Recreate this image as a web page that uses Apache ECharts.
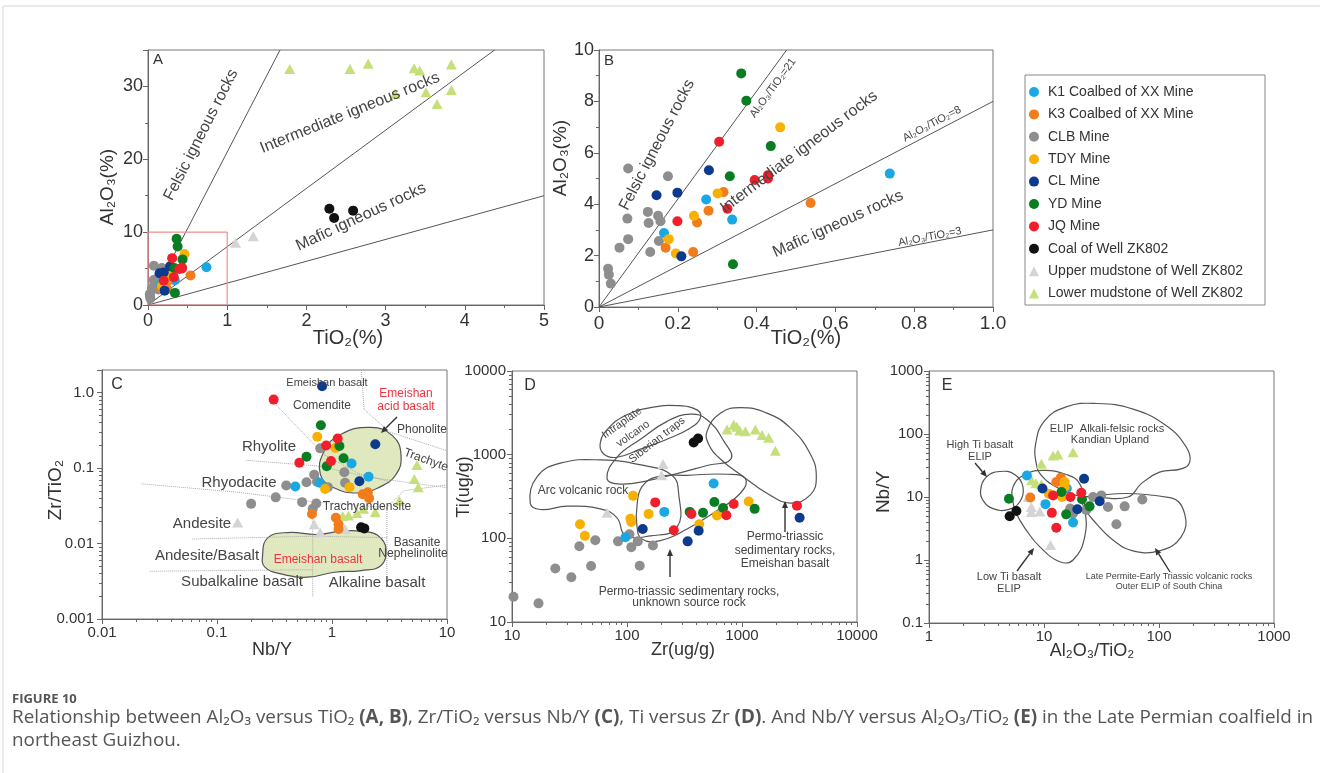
<!DOCTYPE html>
<html lang="en">
<head>
<meta charset="UTF-8">
<title>Figure 10</title>
<style>
  * { margin: 0; padding: 0; }
  body { background: #fff; }
  #main { width: 1320px; height: 773px; }
</style>
<script src="https://cdn.jsdelivr.net/npm/echarts@6/dist/echarts.min.js"></script>
</head>
<body>
<div id="main"></div>
<script>
const FONT = 'Liberation Sans, Arial, sans-serif';

const groups = ['K1 Coalbed of XX Mine', 'K3 Coalbed of XX Mine', 'CLB Mine', 'TDY Mine', 'CL Mine',
  'YD Mine', 'JQ Mine', 'Coal of Well ZK802', 'Upper mudstone of Well ZK802', 'Lower mudstone of Well ZK802'];
const colors = ['#1aa8e4', '#f07c1c', '#8e8e8e', '#f8b100', '#0c3b8e', '#0a7c22', '#f01f2b', '#111111', '#d4d4d4', '#c5df7a'];
const symbols = ['circle', 'circle', 'circle', 'circle', 'circle', 'circle', 'circle', 'circle', 'triangle', 'triangle'];
const drawOrder = [8, 9, 2, 0, 1, 3, 4, 5, 6, 7];

// A & B : TiO2 (%) vs Al2O3 (%), one list per group in the order of `groups`
const abPoints = [
  [[0.272, 4.18], [0.338, 3.40], [0.165, 2.88], [0.738, 5.19]],
  [[0.316, 4.47], [0.278, 3.75], [0.249, 3.29], [0.169, 2.31], [0.239, 2.14], [0.537, 4.05]],
  [[0.023, 1.49], [0.025, 1.26], [0.030, 0.91], [0.052, 2.31], [0.074, 5.39], [0.072, 3.44], [0.074, 2.64],
   [0.124, 3.70], [0.126, 3.27], [0.130, 2.14], [0.150, 3.55], [0.156, 3.34], [0.152, 2.57], [0.175, 5.09]],
  [[0.460, 6.99], [0.301, 4.42], [0.241, 3.55], [0.177, 2.64], [0.195, 2.08]],
  [[0.146, 4.35], [0.199, 4.45], [0.279, 5.32], [0.209, 1.97]],
  [[0.361, 9.09], [0.374, 8.03], [0.436, 6.26], [0.332, 5.09], [0.340, 1.66]],
  [[0.305, 6.43], [0.199, 3.34], [0.326, 3.82], [0.395, 4.94], [0.429, 5.13], [0.429, 5.0]],
  [[2.29, 13.2], [2.35, 11.95], [2.59, 12.95]],
  [[1.105, 8.55], [1.33, 9.45]],
  [[1.79, 32.4], [2.55, 32.4], [2.78, 33.1], [3.36, 32.5], [3.43, 32.2], [3.51, 29.2], [3.65, 27.6],
   [3.83, 33.0], [3.83, 29.5], [3.12, 29.0]]
];

// C : Nb/Y vs Zr/TiO2
const cPoints = [
  [[0.48, 0.057], [0.78, 0.064], [1.48, 0.115], [2.08, 0.077]],
  [[1.85, 0.045], [2.05, 0.048], [2.1, 0.040], [0.67, 0.0247], [1.08, 0.022], [1.14, 0.018], [1.14, 0.0156]],
  [[0.198, 0.0336], [0.324, 0.041], [0.40, 0.059], [0.55, 0.0354], [0.60, 0.065], [0.70, 0.082], [0.74, 0.066],
   [0.92, 0.056], [0.79, 0.183], [0.73, 0.034], [0.68, 0.029], [1.28, 0.088], [1.30, 0.064]],
  [[0.745, 0.26], [1.07, 0.185], [0.87, 0.053], [1.42, 0.056]],
  [[0.82, 1.22], [2.38, 0.207], [1.73, 0.067]],
  [[0.80, 0.37], [0.60, 0.142], [0.90, 0.106], [1.16, 0.197], [1.26, 0.135]],
  [[0.311, 0.81], [0.52, 0.118], [0.89, 0.20], [1.12, 0.247], [0.98, 0.124]],
  [[1.79, 0.0164], [1.91, 0.0159]],
  [[0.151, 0.019], [0.70, 0.018], [0.79, 0.014], [1.30, 0.0156]],
  [[5.48, 0.11], [5.2, 0.072], [5.63, 0.056], [3.85, 0.037], [2.38, 0.026], [1.65, 0.0255], [1.39, 0.0235],
   [1.24, 0.0232], [1.88, 0.029]]
];

// D : Zr (ug/g) vs Ti (ug/g)
const dPoints = [
  [[97, 103], [211, 207], [567, 453]],
  [],
  [[10.3, 20], [17, 16.7], [23.8, 43.7], [32.8, 34.3], [38.5, 80.5], [48.7, 46.6], [53, 95], [83.6, 92],
   [105, 112], [109, 78.5], [124, 92], [129, 47], [168, 82]],
  [[39, 147], [43, 107], [113, 322], [107, 171], [109, 157], [154, 196], [425, 147], [606, 188], [1143, 276]],
  [[137, 129], [337, 92], [420, 123], [3170, 176]],
  [[351, 207], [458, 202], [575, 272], [684, 231], [1288, 225]],
  [[176, 269], [255, 125], [363, 196], [731, 189], [847, 257], [3006, 246]],
  [[380, 1400], [415, 1560]],
  [[67, 202], [200, 567], [206, 776]],
  [[741, 1998], [847, 2285], [955, 1945], [1070, 1910], [1306, 1996], [1493, 1714], [1706, 1597],
   [1950, 1114], [900, 2150]]
];

// E : Al2O3/TiO2 vs Nb/Y
const ePoints = [
  [[7.1, 22], [10.3, 7.7], [15.8, 13.6], [17.9, 3.94]],
  [[14, 20.2], [12.8, 17.3], [7.6, 9.8]],
  [[26.7, 10], [31.5, 10.6], [36, 6.95], [50.3, 7.1], [71.6, 9.1], [42.6, 3.7], [16.9, 6.55], [17.9, 5.46], [23.3, 6.2]],
  [[15.1, 17.3], [14.4, 10], [15.1, 14.4], [11, 11.3]],
  [[22.3, 19.5], [9.7, 13.6], [19.5, 6.4], [30.5, 8.55]],
  [[4.96, 9.4], [21.4, 9.2], [15.6, 5.3], [24.9, 7.1], [14.2, 12.0]],
  [[12, 10.6], [17, 10], [21.1, 11.7], [11.7, 5.6], [12.8, 3.24]],
  [[5.03, 4.95], [5.75, 6.0]],
  [[7.76, 6.95], [7.76, 5.8], [9.2, 5.9], [11.4, 1.73], [7.3, 10]],
  [[9.5, 33.6], [12, 45.5], [13.2, 47.2], [17.9, 51.4], [7.8, 18.5], [8.5, 16.5], [9.5, 16]]
];

// Al2O3/TiO2 ratio lines of A and B
const ratioLines = [21, 8, 3];

// field outlines (data units)
const cAcidBasalt = [[0.793, 0.0822], [0.857, 0.169], [1.20, 0.282], [2.18, 0.347], [3.37, 0.268], [3.98, 0.152],
  [3.60, 0.0822], [2.50, 0.0545], [1.67, 0.0468], [1.05, 0.0545]];
const cEmeishanBasalt = [[0.249, 0.00698], [0.276, 0.0119], [0.411, 0.0140], [0.750, 0.0132], [1.20, 0.0146],
  [1.79, 0.0146], [2.49, 0.0129], [2.95, 0.00857], [2.67, 0.00513], [1.79, 0.00439], [1.05, 0.00417],
  [0.614, 0.00358], [0.361, 0.00396], [0.261, 0.00487]];
const cBoundaries = [
  [[0.33, 0.68], [0.84, 0.153], [1.7, 0.085], [3.2, 0.066]],
  [[1.8, 2], [1.9, 0.6], [3.2, 0.3], [10, 0.17]],
  [[0.18, 0.127], [0.74, 0.107], [2.2, 0.075], [10, 0.055]],
  [[0.022, 0.062], [0.15, 0.048], [0.68, 0.036], [3, 0.03]],
  [[0.061, 0.0115], [0.68, 0.0125], [3, 0.012]],
  [[0.026, 0.0043], [0.68, 0.0045]],
  [[0.68, 0.002], [0.68, 0.04]],
  [[3, 0.003], [3, 0.03], [4.2, 0.05], [10, 0.06]]
];
const dIntraplate = [[58.6, 1396], [69.3, 2089], [100, 3000], [160, 3651], [272, 3855], [406, 3428], [434, 2738],
  [356, 2089], [223, 1528], [131, 1164], [81.8, 931], [62.7, 1019]];
const dSiberian = [[67, 519], [81.8, 931], [131, 1528], [223, 2500], [356, 3048], [497, 2618], [693, 1460],
  [802, 889], [497, 743], [272, 593], [149, 487], [87.5, 445]];
const dArc = [[14.4, 264], [16.5, 542], [26.3, 791], [58.6, 866], [140, 743], [246, 567], [281, 346], [272, 135],
  [160, 107], [96.8, 109], [81.8, 176], [58.6, 225], [30.1, 242], [17.6, 221]];
const dUnknown = [[122, 242], [135, 414], [182, 542], [333, 567], [741, 583], [1069, 519], [968, 346], [567, 202],
  [333, 129], [195, 94], [135, 98], [122, 141]];
const dEmeishan = [[497, 1911], [648, 3133], [968, 3651], [1648, 3133], [2630, 2089], [3926, 1019], [4428, 542],
  [3926, 331], [2630, 264], [1648, 346], [1033, 542], [648, 889], [513, 1334]];
const eHighTi = [[2.81, 12.7], [3.15, 20.7], [4.12, 25.4], [5.56, 22.8], [6.57, 14.4], [6.14, 8.34], [4.86, 6.31],
  [3.60, 6.55], [2.95, 8.86]];
const eLowTi = [[5.37, 14.4], [6.57, 22], [9.8, 26.4], [15.6, 22.8], [20.4, 16.3], [22.6, 6.95], [22.6, 2.33],
  [17.9, 1.0], [13.7, 0.94], [9.17, 1.63], [7.02, 2.98], [5.75, 5.46], [5.3, 9.42]];
const eAlkali = [[8.58, 33.6], [8.46, 69.5], [10.1, 162], [15.6, 270], [28.5, 305], [59.4, 248], [116, 135],
  [173, 61.6], [185, 35.7], [156, 28], [101, 24.8], [70.2, 16.3], [53.8, 10], [28.5, 10], [19.1, 10.6],
  [12.8, 14.4], [9.48, 22]];
const eLatePermian = [[21.8, 10], [124, 9.76], [167, 5.46], [156, 2.33], [101, 1.40], [59.4, 1.40], [39.8, 2.07],
  [28.5, 3.79], [22.6, 6.55]];

const chart = echarts.init(document.getElementById('main'));

function logLabel(map) {
  return function (v) {
    const lg = Math.log10(v);
    if (Math.abs(lg - Math.round(lg)) > 1e-6) return '';
    return map[Math.round(lg)] || '';
  };
}

function axis(extra, fontSize, minorSplit) {
  return Object.assign({
    axisLine: { show: true, lineStyle: { color: '#666', width: 1 } },
    axisTick: { show: true, length: 5, lineStyle: { color: '#666' } },
    minorTick: { show: true, splitNumber: minorSplit, length: 3, lineStyle: { color: '#666' } },
    splitLine: { show: false },
    axisLabel: { color: '#333', fontSize: fontSize, fontFamily: FONT, margin: 7 }
  }, extra);
}

const xAxis = [
  axis({ gridIndex: 0, type: 'value', min: 0, max: 5, interval: 1 }, 18, 2),
  axis({ gridIndex: 1, type: 'value', min: 0, max: 1, interval: 0.2,
    axisLabel: { color: '#333', fontSize: 19, fontFamily: FONT, margin: 7,
      formatter: v => v === 0 ? '0' : v.toFixed(1) } }, 19, 2),
  axis({ gridIndex: 2, type: 'log', logBase: 10, min: 0.01, max: 10,
    axisLabel: { color: '#333', fontSize: 15, fontFamily: FONT, margin: 6,
      formatter: logLabel({ '-2': '0.01', '-1': '0.1', '0': '1', '1': '10' }) } }, 15, 9),
  axis({ gridIndex: 3, type: 'log', logBase: 10, min: 10, max: 10000,
    axisLabel: { color: '#333', fontSize: 15, fontFamily: FONT, margin: 6,
      formatter: logLabel({ '1': '10', '2': '100', '3': '1000', '4': '10000' }) } }, 15, 9),
  axis({ gridIndex: 4, type: 'log', logBase: 10, min: 1, max: 1000,
    axisLabel: { color: '#333', fontSize: 15, fontFamily: FONT, margin: 6,
      formatter: logLabel({ '0': '1', '1': '10', '2': '100', '3': '1000' }) } }, 15, 9)
];
const yAxis = [
  axis({ gridIndex: 0, type: 'value', min: 0, max: 35, interval: 10,
    axisLabel: { color: '#333', fontSize: 18, fontFamily: FONT, margin: 5, showMaxLabel: false,
      formatter: v => (v % 10 === 0 ? String(v) : '') } }, 18, 2),
  axis({ gridIndex: 1, type: 'value', min: 0, max: 10, interval: 2,
    axisLabel: { color: '#333', fontSize: 18, fontFamily: FONT, margin: 5 } }, 18, 2),
  axis({ gridIndex: 2, type: 'log', logBase: 10, min: 0.001, max: 2,
    axisLabel: { color: '#333', fontSize: 15, fontFamily: FONT, margin: 8,
      formatter: logLabel({ '-3': '0.001', '-2': '0.01', '-1': '0.1', '0': '1.0' }) } }, 15, 9),
  axis({ gridIndex: 3, type: 'log', logBase: 10, min: 10, max: 10000,
    axisLabel: { color: '#333', fontSize: 15, fontFamily: FONT, margin: 6,
      formatter: logLabel({ '1': '10', '2': '100', '3': '1000', '4': '10000' }) } }, 15, 9),
  axis({ gridIndex: 4, type: 'log', logBase: 10, min: 0.1, max: 1000,
    axisLabel: { color: '#333', fontSize: 15, fontFamily: FONT, margin: 6,
      formatter: logLabel({ '-1': '0.1', '0': '1', '1': '10', '2': '100', '3': '1000' }) } }, 15, 9)
];

const gridBox = { show: true, borderColor: '#777', borderWidth: 1, backgroundColor: 'transparent' };
const grid = [
  Object.assign({ left: 148, top: 50, width: 396, height: 255 }, gridBox),
  Object.assign({ left: 599, top: 50, width: 394, height: 257 }, gridBox),
  Object.assign({ left: 102, top: 370, width: 345, height: 249 }, gridBox),
  Object.assign({ left: 512, top: 371, width: 345, height: 251 }, gridBox),
  Object.assign({ left: 929, top: 371, width: 345, height: 252 }, gridBox)
];

const series = [];

function field(outline, g, fill) {
  series.push({
    type: 'custom', xAxisIndex: g, yAxisIndex: g, silent: true, clip: true, z: 1,
    data: [outline[0]],
    renderItem: function (params, api) {
      return {
        type: 'polygon',
        shape: { points: outline.map(p => api.coord(p)), smooth: 0.45 },
        style: { fill: fill || 'none', stroke: '#555', lineWidth: 1.2 }
      };
    }
  });
}

function polyline(data, g, style) {
  series.push({
    type: 'line', xAxisIndex: g, yAxisIndex: g, data: data, symbol: 'none', silent: true, z: 2,
    lineStyle: style, animation: false
  });
}

// A / B ratio lines
[[0, 5, 35], [1, 1, 10]].forEach(([g, xmax, ymax]) => {
  ratioLines.forEach(k => {
    const xe = Math.min(xmax, ymax / k);
    polyline([[0, 0], [xe, xe * k]], g, { color: '#555', width: 1 });
  });
});
polyline([[0, 0], [1, 0], [1, 10], [0, 10], [0, 0]], 0, { color: '#f28b8b', width: 1.2 });

// C fields and boundaries
cBoundaries.forEach(b => polyline(b, 2, { color: '#a8a8a8', width: 1, type: 'dotted' }));
field(cAcidBasalt, 2, 'rgba(214, 224, 170, 0.75)');
field(cEmeishanBasalt, 2, 'rgba(214, 224, 170, 0.75)');
// D fields
[dIntraplate, dSiberian, dArc, dUnknown, dEmeishan].forEach(f => field(f, 3));
// E fields
[eHighTi, eLowTi, eAlkali, eLatePermian].forEach(f => field(f, 4));

// sample points
const panels = [abPoints, abPoints, cPoints, dPoints, ePoints];
panels.forEach((pts, g) => {
  drawOrder.forEach(i => {
    series.push({
      name: groups[i], type: 'scatter', xAxisIndex: g, yAxisIndex: g, data: pts[i],
      symbol: symbols[i], symbolSize: symbols[i] === 'triangle' ? [11, 10] : 10,
      itemStyle: { color: colors[i], opacity: 1 }, z: 3
    });
  });
});

// annotations
const deg = d => d * Math.PI / 180;
function txt(s, x, y, size, opt) {
  opt = opt || {};
  return {
    type: 'text', x: x, y: y, rotation: deg(opt.rot || 0), z: 10, silent: true,
    style: { text: s, fontSize: size, fontFamily: opt.family || FONT, fontWeight: opt.weight || 'normal',
      fill: opt.color || '#444', align: opt.align || 'center', verticalAlign: 'middle', rich: opt.rich }
  };
}
function arrow(x1, y1, x2, y2) {
  const a = Math.atan2(y2 - y1, x2 - x1), L = 7, W = 3;
  const hx = x2 - L * Math.cos(a), hy = y2 - L * Math.sin(a);
  return [
    { type: 'line', z: 10, silent: true, shape: { x1: x1, y1: y1, x2: hx, y2: hy }, style: { stroke: '#333', lineWidth: 1.4 } },
    { type: 'polygon', z: 10, silent: true,
      shape: { points: [[x2, y2], [hx + W * Math.sin(a), hy - W * Math.cos(a)], [hx - W * Math.sin(a), hy + W * Math.cos(a)]] },
      style: { fill: '#333' } }
  ];
}

const RED = '#ee3340';
const CAP = 'Open Sans, sans-serif';
const capRich = {
  n: { fontSize: 18.85, fontFamily: CAP, color: '#555' },
  b: { fontSize: 18.85, fontFamily: CAP, color: '#555', fontWeight: 'bold' }
};
const graphic = [
  { type: 'rect', z: 0, silent: true, shape: { x: 3, y: 6, width: 1330, height: 800 }, style: { fill: 'none', stroke: '#d6d6d6', lineWidth: 1 } },
  { type: 'rect', z: 0, silent: true, shape: { x: 1025, y: 75, width: 240, height: 230 }, style: { fill: 'none', stroke: '#888', lineWidth: 1 } },
  // axis titles
  txt('Al₂O₃(%)', 108, 187, 19, { rot: 90, color: '#333' }),
  txt('TiO₂(%)', 348, 338, 20, { color: '#333' }),
  txt('Al₂O₃(%)', 561, 158, 19, { rot: 90, color: '#333' }),
  txt('TiO₂(%)', 806, 338, 20, { color: '#333' }),
  txt('Zr/TiO₂', 56, 490, 19, { rot: 90, color: '#333' }),
  txt('Nb/Y', 272, 650, 18, { color: '#333' }),
  txt('Ti(ug/g)', 464, 487, 18, { rot: 90, color: '#333' }),
  txt('Zr(ug/g)', 683, 650, 18, { color: '#333' }),
  txt('Nb/Y', 884, 492, 19, { rot: 90, color: '#333' }),
  txt('Al₂O₃/TiO₂', 1092, 651, 18, { color: '#333' }),
  // panel A
  txt('A', 158, 60, 15, { color: '#333' }),
  txt('Felsic igneous rocks', 201, 135, 16, { rot: 63 }),
  txt('Intermediate igneous rocks', 350, 113, 16, { rot: 22 }),
  txt('Mafic igneous rocks', 361, 217, 16, { rot: 25 }),
  // panel B
  txt('B', 609, 61, 15, { color: '#333' }),
  txt('Felsic igneous rocks', 657, 145, 16, { rot: 62.5 }),
  txt('Intermediate igneous rocks', 799, 152, 16, { rot: 37 }),
  txt('Mafic igneous rocks', 838, 224, 16, { rot: 24.5 }),
  txt('Al₂O₃/TiO₂=21', 773, 88, 11, { rot: 54 }),
  txt('Al₂O₃/TiO₂=8', 932, 124, 11, { rot: 28 }),
  txt('Al₂O₃/TiO₂=3', 930, 237, 11, { rot: 11 }),
  // panel C
  txt('C', 117, 385, 16, { color: '#333' }),
  txt('Emeishan basalt', 327, 383, 11),
  txt('Emeishan', 406, 394, 12, { color: RED }),
  txt('acid basalt', 406, 407, 12, { color: RED }),
  txt('Comendite', 322, 406, 12),
  txt('Phonolite', 422, 430, 12),
  txt('Rhyolite', 269, 447, 15),
  txt('Trachyte', 426, 460, 12, { rot: -20 }),
  txt('Rhyodacite', 239, 483, 15),
  txt('Trachyandensite', 367, 507, 12),
  txt('Andesite', 202, 524, 15),
  txt('Basanite', 417, 543, 12),
  txt('Nephelinolite', 413, 554, 12),
  txt('Andesite/Basalt', 207, 556, 15),
  txt('Emeishan basalt', 318, 560, 12, { color: RED }),
  txt('Subalkaline basalt', 242, 582, 15),
  txt('Alkaline basalt', 377, 583, 15),
  ...arrow(397, 417, 381, 433),
  // panel D
  txt('D', 530, 386, 16, { color: '#333' }),
  txt('Intraplate', 622, 423, 11, { rot: 35 }),
  txt('volcano', 633, 434, 11, { rot: 35 }),
  txt('Siberian traps', 657, 440, 11, { rot: 38 }),
  txt('Arc volcanic rock', 583, 491, 12),
  txt('Permo-triassic sedimentary rocks,', 689, 592, 12),
  txt('unknown source rock', 689, 603, 12),
  txt('Permo-triassic', 785, 537, 12),
  txt('sedimentary rocks,', 785, 551, 12),
  txt('Emeishan basalt', 785, 564, 12),
  ...arrow(670, 577, 670, 549),
  ...arrow(785, 532, 785, 501),
  // panel E
  txt('E', 947, 386, 16, { color: '#333' }),
  txt('ELIP  Alkali-felsic rocks', 1107, 429, 11),
  txt('Kandian Upland', 1110, 440, 11),
  txt('High Ti basalt', 980, 445, 11),
  txt('ELIP', 980, 457, 11),
  txt('Low Ti basalt', 1009, 577, 11),
  txt('ELIP', 1009, 589, 11),
  txt('Late Permite-Early Triassic volcanic rocks', 1169, 577, 9),
  txt('Outer ELIP of South China', 1169, 587, 9),
  ...arrow(975, 463, 987, 477),
  ...arrow(1017, 571, 1034, 548),
  ...arrow(1170, 572, 1155, 548),
  // caption
  txt('FIGURE 10', 12, 699, 13, { align: 'left', family: CAP, weight: 'bold', color: '#555' }),
  txt('{n|Relationship between Al₂O₃ versus TiO₂ }{b|(A, B)}{n|, Zr/TiO₂ versus Nb/Y }{b|(C)}{n|, Ti versus Zr }{b|(D)}{n|. And Nb/Y versus Al₂O₃/TiO₂ }{b|(E)}{n| in the Late Permian coalfield in}',
    12, 718, 18.85, { align: 'left', family: CAP, color: '#555', rich: capRich }),
  txt('northeast Guizhou.', 12, 741, 18.85, { align: 'left', family: CAP, color: '#555' })
];

const option = {
  animation: false,
  textStyle: { fontFamily: FONT },
  legend: {
    orient: 'vertical', left: 1029, top: 85, itemWidth: 10, itemHeight: 10, itemGap: 8.4,
    data: groups, padding: 0,
    textStyle: { fontSize: 14, color: '#333', fontFamily: FONT, padding: [0, 0, 0, 4] }
  },
  grid: grid,
  xAxis: xAxis,
  yAxis: yAxis,
  series: series,
  graphic: graphic
};
chart.setOption(option);
</script>
</body>
</html>
